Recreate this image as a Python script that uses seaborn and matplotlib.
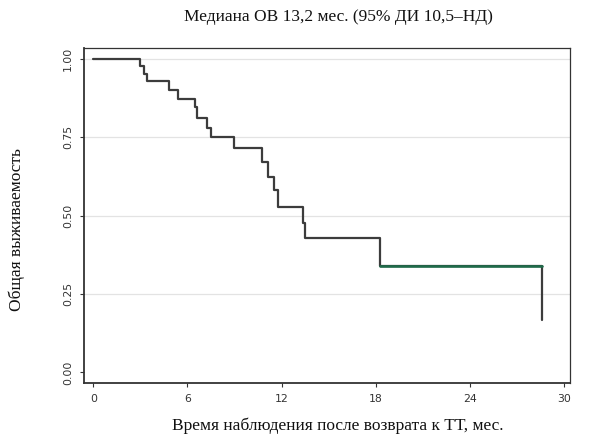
import matplotlib
matplotlib.use("Agg")
import matplotlib.pyplot as plt
import seaborn as sns
import pandas as pd

# Kaplan-Meier step data (months, survival)
times = [0, 3.0, 3.2, 3.4, 4.85, 5.4, 6.5, 6.6, 7.25, 7.5, 8.95, 10.75, 11.15, 11.5, 11.75, 13.35, 13.5, 18.3, 28.6]
surv = [1.0, 0.976, 0.952, 0.929, 0.901, 0.873, 0.845, 0.81, 0.78, 0.75, 0.714, 0.671, 0.623, 0.581, 0.526, 0.477, 0.429, 0.340, 0.168]
x_ticks = [0, 6, 12, 18, 24, 30]
y_ticks = [0.0, 0.25, 0.5, 0.75, 1.0]
y_tick_labels = ["0.00", "0.25", "0.50", "0.75", "1.00"]
title = "Медиана ОВ 13,2 мес. (95% ДИ 10,5–НД)"
xlabel = "Время наблюдения после возврата к ТТ, мес."
ylabel = "Общая выживаемость"

sns.set_theme(style="white")
plt.rcParams["font.family"] = ["DejaVu Sans"]

df = pd.DataFrame({"t": times, "s": surv})
# last plateau (drawn in green in the reference)
tail = pd.DataFrame({"t": times[-2:], "s": [surv[-2], surv[-2]]})

fig = plt.figure(figsize=(5.89, 4.40), dpi=100)
ax = fig.add_axes([84 / 589, 1 - 383 / 440, (570 - 84) / 589, (383 - 48) / 440])

for yv in y_ticks[1:]:
    ax.axhline(yv, color="#e3e3e3", lw=0.9, zorder=0)

sns.lineplot(data=df, x="t", y="s", drawstyle="steps-post", color="#3c3c3c",
             lw=1.6, ax=ax, zorder=3)
sns.lineplot(data=tail, x="t", y="s", color="#1f6b4a",
             lw=1.9, ax=ax, zorder=5)

ax.set_xlim(-0.6, 30.4)
ax.set_ylim(-0.034, 1.034)
ax.set_xticks(x_ticks)
ax.set_yticks(y_ticks)
ax.set_yticklabels(y_tick_labels, rotation=90, va="center")
ax.tick_params(axis="both", direction="out", length=3, width=0.8, labelsize=7.8,
               colors="#333333", pad=5, left=True, bottom=True)
for sp in ax.spines.values():
    sp.set_color("#333333")
    sp.set_linewidth(0.9)
ax.spines["left"].set_linewidth(1.3)
ax.spines["bottom"].set_linewidth(1.3)
ax.set_xlabel("")
ax.set_ylabel("")

serif = ["Liberation Serif", "DejaVu Serif"]
fig.text(338 / 589, 1 - 17 / 440, title, family=serif, fontsize=12.5,
         ha="center", va="center", color="#111111")
fig.text(338 / 589, 1 - 426 / 440, xlabel, family=serif, fontsize=12.5,
         ha="center", va="center", color="#111111")
fig.text(17 / 589, 1 - 230 / 440, ylabel, family=serif, fontsize=12.5,
         ha="center", va="center", rotation=90, color="#111111")

fig.savefig("out.png", dpi=100)
